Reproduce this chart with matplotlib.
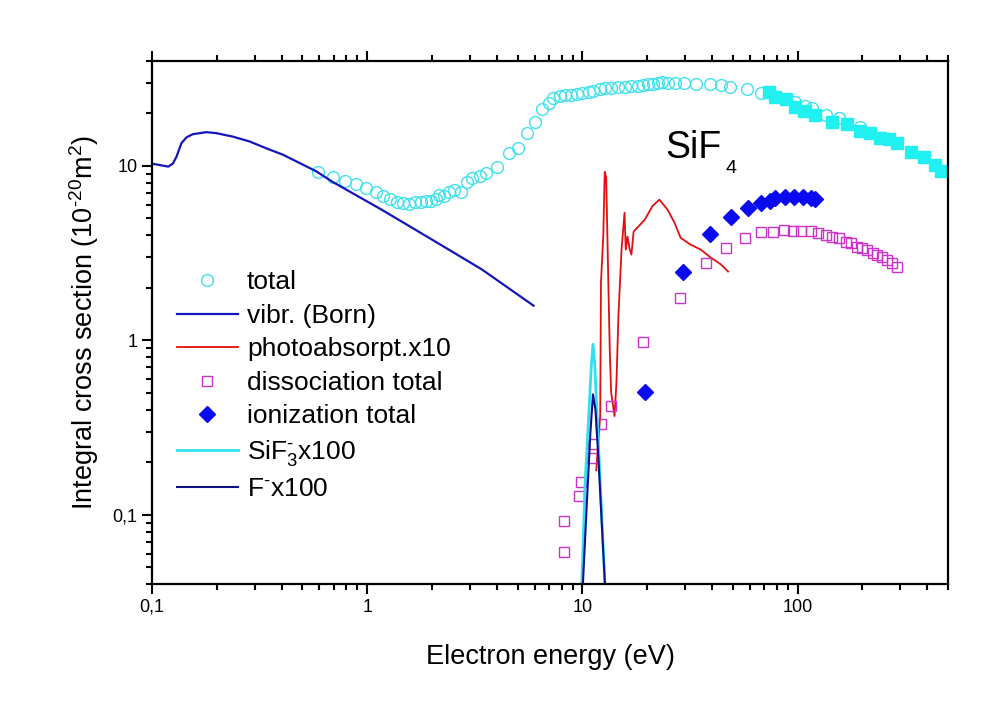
import numpy as np
import matplotlib
matplotlib.use("Agg")
import matplotlib.pyplot as plt
from matplotlib.ticker import FixedLocator, LogLocator, NullFormatter, FuncFormatter

plt.rcParams['font.family'] = ['Liberation Sans', 'DejaVu Sans']
plt.rcParams['mathtext.fontset'] = 'custom'
plt.rcParams['mathtext.rm'] = 'Liberation Sans'
plt.rcParams['mathtext.it'] = 'Liberation Sans'

# total cross section (open circles)
tot_E = [0.593, 0.696, 0.79, 0.89, 0.99, 1.10, 1.18, 1.28, 1.38, 1.47, 1.57, 1.67,
         1.78, 1.88, 1.98, 2.08, 2.15, 2.27, 2.39, 2.52, 2.74, 2.9, 3.06, 3.33, 3.55,
         4.03, 4.55, 5.0, 5.5, 6.05, 6.5, 6.96, 7.34, 7.91, 8.34, 8.89, 9.48, 10.0,
         10.7, 11.2, 12.1, 12.8, 13.6, 14.7, 15.8, 16.9, 18.2, 19.2, 20.2, 21.3, 22.5,
         23.5, 25.0, 27.0, 29.7, 33.7, 39.1, 44, 48.4, 58, 67.4, 96.8, 108, 117, 135,
         156, 194]
tot_s = [9.24, 8.65, 8.2, 7.9, 7.5, 7.1, 6.7, 6.5, 6.2, 6.15, 6.07, 6.2,
         6.2, 6.3, 6.3, 6.5, 6.8, 6.7, 7.1, 7.3, 7.1, 8.1, 8.5, 8.7, 9.1,
         9.9, 11.9, 12.7, 15.4, 17.8, 21.2, 22.9, 24.5, 25.1, 25.4, 25.4, 25.8, 26.1,
         26.5, 26.8, 27.5, 27.9, 27.9, 28.3, 28.3, 28.7, 28.7, 29.0, 29.4, 29.4, 29.8,
         30.2, 29.8, 29.8, 29.8, 29.4, 29.4, 29.0, 28.3, 27.5, 26.1, 23.2, 22.0, 21.4, 19.6,
         18.8, 16.7]

# total, second set (filled squares)
tot2_E = [73.4, 78.3, 88, 96.8, 107, 121, 144, 170, 194, 218, 242, 267, 290, 337, 387, 435, 464]
tot2_s = [26.5, 24.8, 24.1, 21.7, 20.6, 19.6, 17.8, 17.4, 15.9, 15.4, 14.5, 14.2, 13.6,
          12.0, 11.3, 10.1, 9.36]

# vibrational (Born)
vib_E = [0.1, 0.109, 0.119, 0.125, 0.130, 0.137, 0.145, 0.155, 0.179, 0.199, 0.238,
         0.284, 0.34, 0.405, 0.484, 0.58, 0.69, 1.17, 2.0, 3.41, 5.93]
vib_s = [10.3, 10.1, 9.9, 10.3, 11.3, 13.5, 14.6, 15.2, 15.6, 15.4, 14.7,
         13.8, 12.6, 11.6, 10.4, 9.3, 8.1, 5.6, 3.78, 2.55, 1.58]

# photoabsorption x10
ph_E = [11.6, 11.9, 12.1, 12.2, 12.5, 12.7, 12.9, 13.2, 13.4, 13.6, 14.1, 14.4, 14.7,
        15.2, 15.7, 15.9, 16.2, 16.6, 16.9, 17.3, 18.2, 19.5, 21.2, 22.8, 24.9, 26.8,
        28.6, 31.8, 35.5, 39.5, 44.1, 47.5]
ph_s = [0.18, 0.28, 0.368, 2.14, 3.93, 9.24, 8.6, 2.14, 0.89, 0.504, 0.368, 0.575, 1.37,
        3.31, 5.39, 3.31, 3.93, 3.31, 3.1, 4.2, 4.49, 4.92, 5.9, 6.4, 5.6, 4.72,
        3.87, 3.54, 3.31, 2.98, 2.72, 2.48]

# dissociation total
dis_E = [8.17, 8.17, 9.68, 9.9, 11.1, 11.2, 12.2, 13.6, 19.2, 28.3, 37.4, 46.7, 56.9, 67.4,
         76.6, 86.1, 95.7, 104, 115, 125, 135, 144, 155, 167, 178, 188, 200, 211, 225,
         235, 248, 261, 275, 290]
dis_s = [0.0615, 0.0924, 0.128, 0.154, 0.212, 0.255, 0.331, 0.42, 0.975, 1.76, 2.79, 3.4,
         3.88, 4.2, 4.2, 4.31, 4.25, 4.25, 4.25, 4.14, 4.03, 3.93, 3.88, 3.68, 3.63, 3.44,
         3.4, 3.31, 3.18, 3.1, 3.02, 2.9, 2.79, 2.65]

# ionization total
ion_E = [19.6, 29.4, 39.1, 49, 58.7, 67.4, 74.6, 78.5, 87, 96, 106, 115, 121]
ion_s = [0.504, 2.48, 4.09, 5.11, 5.75, 6.15, 6.3, 6.56, 6.65, 6.65, 6.65, 6.56, 6.48]

# SiF3- x100
sif3_E = [9.9, 10.3, 10.7, 11.0, 11.2, 11.4, 11.7, 12.1, 12.5, 12.8]
sif3_s = [0.035, 0.154, 0.37, 0.71, 0.95, 0.75, 0.37, 0.154, 0.064, 0.035]

# F- x100
f_E = [10.0, 10.5, 10.9, 11.2, 11.5, 11.9, 12.3, 12.8]
f_s = [0.035, 0.12, 0.3, 0.49, 0.4, 0.2, 0.09, 0.035]

fig = plt.figure(figsize=(10, 7.24), dpi=100)
ax = fig.add_axes([0.152, 0.193, 0.796, 0.723])

ax.plot(tot_E, tot_s, 'o', mfc='none', mec='#40E0EC', mew=1.0, ms=8.5, label='total')
ax.plot(vib_E, vib_s, '-', color='#1515BB', lw=1.6, label='vibr. (Born)')
ax.plot(ph_E, ph_s, '-', color='#E01010', lw=1.3, label='photoabsorpt.x10')
ax.plot(dis_E, dis_s, 's', mfc='none', mec='#CC33CC', mew=1.0, ms=7.5, label='dissociation total')
ax.plot(ion_E, ion_s, 'D', color='#0A0AF0', ms=8.5, label='ionization total')
ax.plot(sif3_E, sif3_s, '-', color='#30E0F0', lw=2.0, label=r'SiF$_3^{\text{-}}$x100')
ax.plot(f_E, f_s, '-', color='#10108C', lw=1.5, label=r'F$^{\text{-}}$x100')
ax.plot(tot2_E, tot2_s, 's', color='#20F0F0', ms=8, mec='#20F0F0')

ax.set_xscale('log')
ax.set_yscale('log')
ax.set_xlim(0.1, 500)
ax.set_ylim(0.04, 40)

def comma(v, pos):
    s = ('%g' % v).replace('.', ',')
    return s

ax.xaxis.set_major_locator(FixedLocator([0.1, 1, 10, 100]))
ax.yaxis.set_major_locator(FixedLocator([0.1, 1, 10]))
ax.xaxis.set_major_formatter(FuncFormatter(comma))
ax.yaxis.set_major_formatter(FuncFormatter(comma))
ax.xaxis.set_minor_locator(LogLocator(base=10, subs=np.arange(2, 10)))
ax.yaxis.set_minor_locator(LogLocator(base=10, subs=np.arange(2, 10)))
ax.xaxis.set_minor_formatter(NullFormatter())
ax.yaxis.set_minor_formatter(NullFormatter())

ax.tick_params(which='both', direction='out', top=True, right=False, width=1.5, labelsize=13)
ax.tick_params(which='major', length=7)
ax.tick_params(which='minor', length=4)
for sp in ax.spines.values():
    sp.set_linewidth(1.6)

ax.set_xlabel('Electron energy (eV)', fontsize=19.5, labelpad=20)
ax.set_ylabel(r'Integral cross section (10$^{\text{-}20}$m$^{2}$)', fontsize=19.5, labelpad=8)

ax.text(0.645, 0.815, 'SiF', transform=ax.transAxes, fontsize=27, ha='left', va='baseline')
ax.text(0.72, 0.786, '4', transform=ax.transAxes, fontsize=14, ha='left', va='baseline')

ax.legend(loc='upper left', bbox_to_anchor=(0.015, 0.625), frameon=False, fontsize=19,
          handlelength=2.3, handletextpad=0.35, labelspacing=0.36, borderpad=0)

fig.savefig('out.png', dpi=100)
